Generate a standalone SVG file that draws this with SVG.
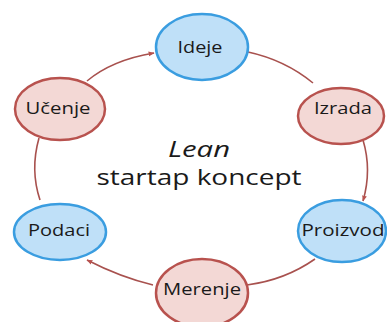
<svg xmlns="http://www.w3.org/2000/svg" width="387" height="322" viewBox="0 0 387 322">
<style>
.blue ellipse{fill:#bfe0f8;stroke:#3a9de0;stroke-width:2.5}
.pink ellipse{fill:#f3d8d5;stroke:#b8524e;stroke-width:2.5}
text{font-family:"Open Sans","Noto Sans",sans-serif;fill:#1a1a1a;text-anchor:middle}
.lbl{font-size:16.5px}
.title{font-size:22px}
#connectors path{fill:none;stroke:#a8514e;stroke-width:1.6}
</style>
<defs>
<marker id="arr" viewBox="0 0 10 10" refX="9" refY="5" markerWidth="6" markerHeight="6" orient="auto" markerUnits="userSpaceOnUse">
<path d="M0,1 L10,5 L0,9 z" fill="#b8524e"/>
</marker>
</defs>
<rect width="387" height="322" fill="#ffffff"/>
<g id="connectors">
<path d="M87,81 Q112,60 154,53" marker-end="url(#arr)"/>
<path d="M248,52 Q285,60 313,83"/>
<path d="M363,140 Q372,170 363,201" marker-end="url(#arr)"/>
<path d="M315,259 Q285,280 247,285"/>
<path d="M153,285 Q120,277 87,260" marker-end="url(#arr)"/>
<path d="M40,200 Q30,170 39,138"/>
</g>
<g id="ideje" class="blue"><ellipse cx="202" cy="47" rx="46" ry="33"/><text class="lbl" x="200" y="53" textLength="45" lengthAdjust="spacingAndGlyphs">Ideje</text></g>
<g id="ucenje" class="pink"><ellipse cx="60" cy="109" rx="45" ry="31"/><text class="lbl" x="58" y="114" textLength="65" lengthAdjust="spacingAndGlyphs">Učenje</text></g>
<g id="izrada" class="pink"><ellipse cx="341" cy="116" rx="43" ry="28"/><text class="lbl" x="343" y="114" textLength="58" lengthAdjust="spacingAndGlyphs">Izrada</text></g>
<g id="podaci" class="blue"><ellipse cx="60" cy="232" rx="46" ry="28"/><text class="lbl" x="59" y="236" textLength="62" lengthAdjust="spacingAndGlyphs">Podaci</text></g>
<g id="proizvod" class="blue"><ellipse cx="342" cy="231" rx="44" ry="31"/><text class="lbl" x="343" y="236" textLength="83" lengthAdjust="spacingAndGlyphs">Proizvod</text></g>
<g id="merenje" class="pink"><ellipse cx="202" cy="293" rx="46" ry="34"/><text class="lbl" x="202" y="295" textLength="78" lengthAdjust="spacingAndGlyphs">Merenje</text></g>
<g id="center">
<text class="title" x="199" y="157" font-style="italic" textLength="62" lengthAdjust="spacingAndGlyphs">Lean</text>
<text class="title" x="199" y="185" textLength="205" lengthAdjust="spacingAndGlyphs">startap koncept</text>
</g>
</svg>
